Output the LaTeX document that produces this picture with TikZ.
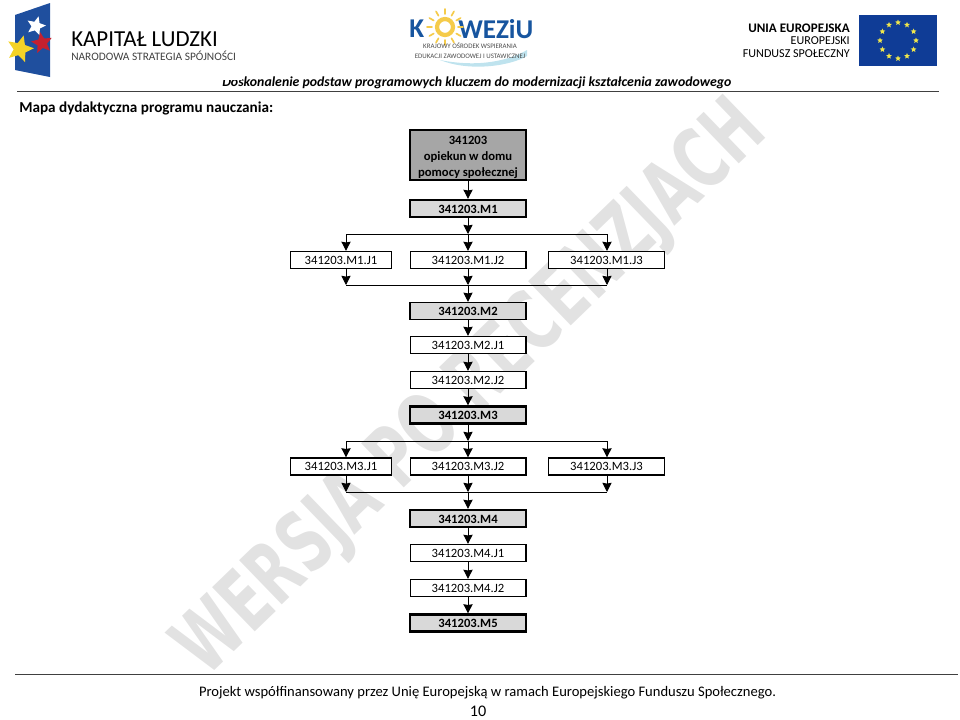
\documentclass[tikz,border=0pt]{standalone}
\usepackage{fontspec}
\setmainfont{Carlito}
\newfontfamily\wmfont{DejaVu Sans}
\usetikzlibrary{arrows.meta,shapes.geometric,calc}
\definecolor{euBlue}{HTML}{0F3C96}
\definecolor{euStar}{HTML}{F0E64B}
\definecolor{klBlue}{HTML}{1F4F9E}
\definecolor{klRed}{HTML}{C4202F}
\definecolor{klYellow}{HTML}{F5D327}
\definecolor{kwBlue}{HTML}{17559F}
\definecolor{kwSun}{HTML}{F5CB4A}
\definecolor{kwWave}{HTML}{BFE3EE}
\definecolor{wmGray}{HTML}{E2E2E2}
\definecolor{topGray}{HTML}{A6A6A6}
\definecolor{modGray}{HTML}{D9D9D9}

\begin{document}
\begin{tikzpicture}[
    x=0.25mm, y=-0.25mm,
    every node/.style={font=\fontsize{9}{11}\selectfont, inner sep=0pt},
    topbox/.style={rectangle, draw, line width=1.7pt, fill=topGray, minimum width=28.9mm,
                   minimum height=12.6mm, align=center, font=\fontsize{9}{11.4}\selectfont\bfseries},
    modbox/.style={rectangle, draw, line width=1.7pt, fill=modGray, minimum width=28.9mm,
                   minimum height=4.2mm, text height=7pt, text depth=0pt, font=\fontsize{9}{11}\selectfont\bfseries},
    jbox/.style={rectangle, draw, line width=1pt, fill=white, minimum width=28.9mm, minimum height=4.2mm},
    jside/.style={jbox, minimum width=25.2mm},
    e/.style={-{Stealth[length=2.3mm, width=2.3mm, inset=0.2mm]}, line width=0.7pt},
    bar/.style={line width=0.7pt},
    star5/.style={star, star points=5, star point ratio=2.2, inner sep=0pt},
    eustar/.style={star5, fill=euStar, minimum size=1.5mm},
    rule/.style={line width=0.7pt, black!75},
    ray/.style={line width=1.2pt, kwSun, line cap=round},
  ]
  \useasboundingbox (0,0) rectangle (960,719);

  % watermark
  \node[rotate=44, xscale=0.67, transform shape, text=wmGray, font=\wmfont\fontsize{60}{60}\selectfont\bfseries] (wm) at (472,390) {WERSJA PO RECENZJACH};
  \fill[white] (600,60) rectangle (800,90);

  % logo left
  \fill[klBlue] (15,15) -- (50,3) -- (50,77) -- (15,70) -- cycle;
  \node[star5, fill=white, minimum size=5mm, rotate=-15] (s1) at (36,26) {};
  \node[star5, fill=klRed, minimum size=5.5mm, rotate=10] (s2) at (42,43) {};
  \node[star5, fill=klYellow, minimum size=7mm, rotate=-15] (s3) at (20,49) {};
  \node[anchor=west, font=\fontsize{16.3}{17}\selectfont] (kl1) at (71,39) {KAPITAŁ LUDZKI};
  \node[anchor=west, font=\fontsize{8.1}{9}\selectfont, black!75] (kl2) at (71,55.5) {NARODOWA STRATEGIA SPÓJNOŚCI};

  % logo middle
  \fill[kwWave] (440,60) .. controls (480,68) and (510,60) .. (527,50) -- (527,56) .. controls (510,66) and (470,72) .. (440,60) -- cycle;
  \node[anchor=west, font=\fontsize{19.3}{20}\selectfont\bfseries, text=kwBlue] (kw1) at (409,29) {K};
  \node[anchor=west, font=\fontsize{19.3}{20}\selectfont\bfseries, text=kwBlue] (kw2) at (458,29) {WEZiU};
  \draw[kwSun, line width=3pt, fill=white] (445,27) circle (8);
  \foreach \a in {0,30,...,330}
    \draw[ray] (445,27) ++(\a:13) -- ++(\a:5);
  \node[font=\fontsize{4.9}{5}\selectfont, black!70] (kw3) at (470,46) {KRAJOWY OŚRODEK WSPIERANIA};
  \node[font=\fontsize{4.9}{5}\selectfont, black!70] (kw4) at (470,56) {EDUKACJI ZAWODOWEJ I USTAWICZNEJ};

  % logo right
  \node[anchor=east, font=\fontsize{9.3}{10}\selectfont\bfseries] (eu1) at (850,28) {UNIA EUROPEJSKA};
  \node[anchor=east, font=\fontsize{8.6}{9}\selectfont] (eu2) at (850,41) {EUROPEJSKI};
  \node[anchor=east, font=\fontsize{8.6}{9}\selectfont] (eu3) at (850,53.5) {FUNDUSZ SPOŁECZNY};
  \fill[euBlue] (859,15) rectangle (937,66);
  \foreach \a in {0,30,...,330}
    \node[eustar] at ($(898,40.5)+(\a:18)$) {};

  % header
  \node[anchor=west, font=\fontsize{9.83}{11}\selectfont\bfseries\itshape] (hdr) at (222,83) {Doskonalenie podstaw programowych kluczem do modernizacji kształcenia zawodowego};
  \fill[white] (220,72) rectangle (242,79.5);
  \coordinate (r1a) at (17,91);
  \coordinate (r1b) at (939,91);
  \draw[rule] (r1a) -- (r1b);
  \node[anchor=west, font=\fontsize{10.8}{12}\selectfont\bfseries] (title) at (19,108) {Mapa dydaktyczna programu nauczania:};

  % boxes
  \node[topbox] (kod) at (468,155) {\rule{0pt}{9pt}341203\\opiekun w domu\\pomocy społecznej};
  \node[modbox] (m1) at (468,208.5) {341203.M1};
  \node[jside] (m1j1) at (341,260) {341203.M1.J1};
  \node[jbox] (m1j2) at (468,260) {341203.M1.J2};
  \node[jbox] (m1j3) at (606.5,260) {341203.M1.J3};
  \node[modbox, line width=1.1pt] (m2) at (468,311) {341203.M2};
  \node[jbox] (m2j1) at (468,345) {341203.M2.J1};
  \node[jbox] (m2j2) at (468,380) {341203.M2.J2};
  \node[modbox] (m3) at (468,415) {341203.M3};
  \node[jside] (m3j1) at (341,466.5) {341203.M3.J1};
  \node[jbox] (m3j2) at (468,466.5) {341203.M3.J2};
  \node[jbox] (m3j3) at (606.5,466.5) {341203.M3.J3};
  \node[modbox] (m4) at (468,518.5) {341203.M4};
  \node[jbox] (m4j1) at (468,553) {341203.M4.J1};
  \node[jbox] (m4j2) at (468,588) {341203.M4.J2};
  \node[modbox] (m5) at (468,623) {341203.M5};

  % branch points
  \coordinate (a1) at (468,234);
  \coordinate (a1l) at (346,234);
  \coordinate (a1r) at (607,234);
  \coordinate (b1) at (468,285);
  \coordinate (b1l) at (346,285);
  \coordinate (b1r) at (607,285);
  \coordinate (a3) at (468,441);
  \coordinate (a3l) at (346,441);
  \coordinate (a3r) at (607,441);
  \coordinate (b3) at (468,492);
  \coordinate (b3l) at (346,492);
  \coordinate (b3r) at (607,492);

  % connectors
  \draw[e] (kod) -- (m1);
  \draw[e] (m1) -- (a1);
  \draw[bar] (a1l) -- (a1r);
  \draw[e] (a1l) -- (a1l |- m1j1.north);
  \draw[e] (a1) -- (m1j2);
  \draw[e] (a1r) -- (a1r |- m1j3.north);
  \draw[e] (b1l |- m1j1.south) -- (b1l);
  \draw[e] (m1j2) -- (b1);
  \draw[e] (b1r |- m1j3.south) -- (b1r);
  \draw[bar] (b1l) -- (b1r);
  \draw[e] (b1) -- (m2);
  \draw[e] (m2) -- (m2j1);
  \draw[e] (m2j1) -- (m2j2);
  \draw[e] (m2j2) -- (m3);
  \draw[e] (m3) -- (a3);
  \draw[bar] (a3l) -- (a3r);
  \draw[e] (a3l) -- (a3l |- m3j1.north);
  \draw[e] (a3) -- (m3j2);
  \draw[e] (a3r) -- (a3r |- m3j3.north);
  \draw[e] (b3l |- m3j1.south) -- (b3l);
  \draw[e] (m3j2) -- (b3);
  \draw[e] (b3r |- m3j3.south) -- (b3r);
  \draw[bar] (b3l) -- (b3r);
  \draw[e] (b3) -- (m4);
  \draw[e] (m4) -- (m4j1);
  \draw[e] (m4j1) -- (m4j2);
  \draw[e] (m4j2) -- (m5);

  % footer
  \coordinate (r2a) at (15,674);
  \coordinate (r2b) at (958,674);
  \draw[rule] (r2a) -- (r2b);
  \node[font=\fontsize{10.37}{12}\selectfont] (foot) at (487.5,693) {Projekt współfinansowany przez Unię Europejską w ramach Europejskiego Funduszu Społecznego.};
  \node[font=\fontsize{11.5}{12}\selectfont] (page) at (478,711) {10};
\end{tikzpicture}
\end{document}
